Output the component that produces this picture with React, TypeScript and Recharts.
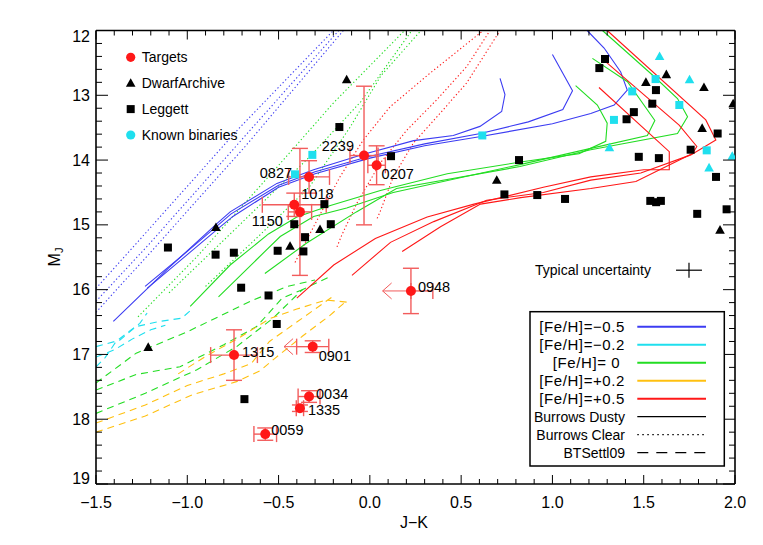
import React from 'react';
import { ComposedChart, Line, Scatter, XAxis, YAxis, ErrorBar, Legend } from 'recharts';

const FONT = '"Liberation Sans", Arial, Helvetica, sans-serif';
const BLUE = '#3c3cf2';
const CYAN = '#1fdfee';
const GREEN = '#22dd22';
const ORANGE = '#ffc010';
const RED = '#ff1818';
const ERR = '#f25c5c';

// ---------- axis ticks ----------
const xTicks = [-1.5, -1.4, -1.3, -1.2, -1.1, -1.0, -0.9, -0.8, -0.7, -0.6, -0.5, -0.4, -0.3, -0.2, -0.1, 0, 0.1, 0.2, 0.3, 0.4, 0.5, 0.6, 0.7, 0.8, 0.9, 1.0, 1.1, 1.2, 1.3, 1.4, 1.5, 1.6, 1.7, 1.8, 1.9, 2.0];
const xMajor = [-1.5, -1.0, -0.5, 0, 0.5, 1.0, 1.5, 2.0];
const xMajorLabels = ['\u22121.5', '\u22121.0', '\u22120.5', '0.0', '0.5', '1.0', '1.5', '2.0'];
const yTicks = [12, 12.2, 12.4, 12.6, 12.8, 13, 13.2, 13.4, 13.6, 13.8, 14, 14.2, 14.4, 14.6, 14.8, 15, 15.2, 15.4, 15.6, 15.8, 16, 16.2, 16.4, 16.6, 16.8, 17, 17.2, 17.4, 17.6, 17.8, 18, 18.2, 18.4, 18.6, 18.8, 19];
const yMajor = [12, 13, 14, 15, 16, 17, 18, 19];
const yMajorLabels = ['12', '13', '14', '15', '16', '17', '18', '19'];

// ---------- Burrows dusty (solid) ----------
const blueDusty1 = [{ x: -1.405, y: 16.49 }, { x: -1.1, y: 15.66 }, { x: -0.838, y: 14.98 }, { x: -0.765, y: 14.8 }, { x: -0.509, y: 14.36 }, { x: -0.308, y: 14.15 }, { x: -0.034, y: 13.91 }, { x: 0.24, y: 13.7 }, { x: 0.457, y: 13.62 }, { x: 0.603, y: 13.48 }, { x: 0.722, y: 13.25 }, { x: 0.74, y: 12.99 }, { x: 0.713, y: 12.74 }];
const blueDusty2 = [{ x: -1.231, y: 15.95 }, { x: -1.0, y: 15.41 }, { x: -0.83, y: 15.0 }, { x: -0.76, y: 14.83 }, { x: -0.5, y: 14.39 }, { x: -0.3, y: 14.18 }, { x: 0, y: 13.94 }, { x: 0.3, y: 13.75 }, { x: 0.606, y: 13.59 }, { x: 0.868, y: 13.41 }, { x: 1.057, y: 13.22 }, { x: 1.11, y: 12.93 }, { x: 1.0, y: 12.37 }];
const blueDusty3 = [{ x: -1.22, y: 15.98 }, { x: -1.0, y: 15.46 }, { x: -0.82, y: 15.03 }, { x: -0.75, y: 14.87 }, { x: -0.5, y: 14.42 }, { x: -0.3, y: 14.21 }, { x: 0, y: 13.97 }, { x: 0.3, y: 13.78 }, { x: 0.6, y: 13.64 }, { x: 1.0, y: 13.44 }, { x: 1.21, y: 13.28 }, { x: 1.338, y: 13.15 }, { x: 1.41, y: 12.92 }, { x: 1.374, y: 12.64 }, { x: 1.283, y: 12.27 }, { x: 1.19, y: 12.0 }];
const greenDusty1 = [{ x: -0.984, y: 16.26 }, { x: -0.765, y: 15.62 }, { x: -0.555, y: 15.14 }, { x: -0.4, y: 14.88 }, { x: -0.216, y: 14.7 }, { x: 0.058, y: 14.47 }, { x: 0.424, y: 14.21 }, { x: 0.826, y: 14.03 }, { x: 1.146, y: 13.9 }, { x: 1.292, y: 13.71 }, { x: 1.3, y: 13.43 }, { x: 1.246, y: 13.15 }, { x: 1.127, y: 12.85 }];
const greenDusty2 = [{ x: -0.829, y: 16.11 }, { x: -0.491, y: 15.18 }, { x: -0.308, y: 14.87 }, { x: -0.127, y: 14.74 }, { x: 0.128, y: 14.5 }, { x: 0.822, y: 14.07 }, { x: 1.21, y: 13.82 }, { x: 1.52, y: 13.62 }, { x: 1.561, y: 13.39 }, { x: 1.411, y: 12.79 }, { x: 1.219, y: 12.43 }];
const greenDusty3 = [{ x: -0.575, y: 15.75 }, { x: -0.346, y: 15.28 }, { x: -0.074, y: 14.8 }, { x: 0.146, y: 14.44 }, { x: 0.822, y: 14.1 }, { x: 1.21, y: 13.84 }, { x: 1.685, y: 13.59 }, { x: 1.74, y: 13.33 }, { x: 1.685, y: 13.05 }, { x: 1.557, y: 12.71 }, { x: 1.274, y: 12.0 }];
const redDusty1 = [{ x: -0.4, y: 16.13 }, { x: -0.198, y: 15.62 }, { x: 0.03, y: 15.21 }, { x: 0.314, y: 14.88 }, { x: 0.57, y: 14.68 }, { x: 0.95, y: 14.42 }, { x: 1.21, y: 14.26 }, { x: 1.5, y: 14.15 }, { x: 1.64, y: 14.15 }, { x: 1.64, y: 13.87 }, { x: 1.255, y: 12.88 }];
const redDusty2 = [{ x: -0.098, y: 15.78 }, { x: 0.113, y: 15.27 }, { x: 0.35, y: 14.95 }, { x: 0.64, y: 14.62 }, { x: 0.95, y: 14.5 }, { x: 1.21, y: 14.31 }, { x: 1.484, y: 14.2 }, { x: 1.758, y: 13.92 }, { x: 1.895, y: 13.69 }, { x: 1.84, y: 13.38 }, { x: 1.3, y: 12.0 }];
const redDusty3 = [{ x: 0.177, y: 15.41 }, { x: 0.387, y: 15.03 }, { x: 0.606, y: 14.68 }, { x: 0.826, y: 14.58 }, { x: 1.21, y: 14.44 }, { x: 1.457, y: 14.33 }, { x: 1.767, y: 13.9 }, { x: 1.791, y: 13.79 }, { x: 1.694, y: 13.46 }, { x: 1.283, y: 12.46 }];

// ---------- Burrows clear (dotted) ----------
const blueClear1 = [{ x: -1.5, y: 16.35 }, { x: -1.2, y: 15.42 }, { x: -0.68, y: 13.78 }, { x: -0.145, y: 12.0 }];
const blueClear2 = [{ x: -1.5, y: 16.18 }, { x: -1.21, y: 15.3 }, { x: -0.7, y: 13.68 }, { x: -0.17, y: 12.0 }];
const blueClear3 = [{ x: -1.5, y: 15.98 }, { x: -1.22, y: 15.1 }, { x: -0.72, y: 13.52 }, { x: -0.2, y: 12.0 }];
const greenClear1 = [{ x: -1.27, y: 16.42 }, { x: -0.95, y: 15.5 }, { x: -0.49, y: 14.05 }, { x: -0.2, y: 13.12 }, { x: 0.19, y: 12.0 }];
const greenClear2 = [{ x: -1.1, y: 16.05 }, { x: -0.75, y: 15.1 }, { x: -0.33, y: 13.95 }, { x: -0.05, y: 13.1 }, { x: 0.23, y: 12.0 }];
const greenClear3 = [{ x: -0.9, y: 15.95 }, { x: -0.6, y: 15.15 }, { x: -0.33, y: 14.41 }, { x: -0.11, y: 13.5 }, { x: 0.06, y: 12.7 }, { x: 0.28, y: 12.0 }];
const redClear1 = [{ x: -0.41, y: 15.58 }, { x: -0.355, y: 15.28 }, { x: -0.164, y: 14.26 }, { x: -0.036, y: 13.69 }, { x: 0.11, y: 13.18 }, { x: 0.329, y: 12.66 }, { x: 0.621, y: 12.0 }];
const redClear2 = [{ x: -0.18, y: 15.34 }, { x: -0.154, y: 15.16 }, { x: -0.072, y: 14.67 }, { x: 0.056, y: 14.05 }, { x: 0.202, y: 13.54 }, { x: 0.366, y: 13.07 }, { x: 0.53, y: 12.56 }, { x: 0.658, y: 12.0 }];
const redClear3 = [{ x: 0.04, y: 14.9 }, { x: 0.056, y: 14.8 }, { x: 0.128, y: 14.26 }, { x: 0.238, y: 13.74 }, { x: 0.384, y: 13.28 }, { x: 0.53, y: 12.81 }, { x: 0.713, y: 12.0 }];

// ---------- BT-Settl 09 (dashed) ----------
const cyanSettl1 = [{ x: -1.5, y: 17.19 }, { x: -1.45, y: 17.05 }, { x: -1.39, y: 16.8 }, { x: -1.26, y: 16.52 }, { x: -1.22, y: 16.36 }];
const cyanSettl2 = [{ x: -1.5, y: 16.88 }, { x: -1.37, y: 16.78 }, { x: -1.28, y: 16.57 }, { x: -1.15, y: 16.49 }, { x: -1.03, y: 16.44 }, { x: -0.97, y: 16.29 }];
const cyanSettl3 = [{ x: -1.5, y: 17.04 }, { x: -1.4, y: 16.93 }, { x: -1.3, y: 16.76 }, { x: -1.2, y: 16.62 }, { x: -1.12, y: 16.55 }];
const greenSettl1 = [{ x: -1.5, y: 17.44 }, { x: -1.28, y: 16.98 }, { x: -1.0, y: 16.65 }, { x: -0.64, y: 16.16 }, { x: -0.45, y: 15.95 }, { x: -0.3, y: 15.85 }];
const greenSettl2 = [{ x: -1.5, y: 17.55 }, { x: -1.28, y: 17.31 }, { x: -1.04, y: 17.19 }, { x: -0.8, y: 16.85 }, { x: -0.62, y: 16.57 }, { x: -0.48, y: 16.13 }, { x: -0.36, y: 15.99 }];
const greenSettl3 = [{ x: -1.5, y: 17.91 }, { x: -1.23, y: 17.6 }, { x: -0.95, y: 17.24 }, { x: -0.73, y: 16.88 }, { x: -0.53, y: 16.44 }, { x: -0.37, y: 16.0 }, { x: -0.22, y: 15.8 }];
const orangeSettl1 = [{ x: -1.5, y: 18.2 }, { x: -1.23, y: 17.95 }, { x: -0.97, y: 17.62 }, { x: -0.73, y: 17.42 }, { x: -0.6, y: 17.25 }, { x: -0.52, y: 17.06 }, { x: -0.37, y: 16.72 }, { x: -0.22, y: 16.4 }, { x: -0.13, y: 16.18 }];
const orangeSettl2 = [{ x: -1.5, y: 18.06 }, { x: -1.23, y: 17.78 }, { x: -1.0, y: 17.48 }, { x: -0.8, y: 17.3 }, { x: -0.65, y: 17.14 }, { x: -0.55, y: 16.8 }, { x: -0.4, y: 16.5 }, { x: -0.19, y: 16.08 }];
const orangeSettl3 = [{ x: -1.05, y: 17.3 }, { x: -0.9, y: 17.03 }, { x: -0.72, y: 16.75 }, { x: -0.55, y: 16.45 }, { x: -0.4, y: 16.3 }, { x: -0.24, y: 16.16 }, { x: -0.1, y: 16.2 }];

// ---------- comparison objects ----------
const dwarfArchive = [{ x: -0.127, y: 12.76 }, { x: -0.273, y: 15.07 }, { x: -0.843, y: 15.04 }, { x: -0.437, y: 15.33 }, { x: -1.214, y: 16.89 }, { x: 0.695, y: 14.31 }, { x: 1.512, y: 12.8 }, { x: 1.624, y: 12.68 }, { x: 1.83, y: 12.88 }, { x: 1.82, y: 13.51 }, { x: 1.99, y: 13.13 }, { x: 1.918, y: 15.08 }];
const leggett = [{ x: -0.167, y: 13.49 }, { x: -0.249, y: 14.68 }, { x: -0.414, y: 14.99 }, { x: -0.214, y: 14.99 }, { x: -0.355, y: 15.19 }, { x: -0.505, y: 15.4 }, { x: -0.364, y: 15.41 }, { x: -1.106, y: 15.35 }, { x: -0.845, y: 15.46 }, { x: -0.745, y: 15.43 }, { x: -0.705, y: 15.97 }, { x: -0.555, y: 16.09 }, { x: -0.51, y: 16.53 }, { x: -0.687, y: 17.69 }, { x: 0.116, y: 13.94 }, { x: 0.817, y: 14.0 }, { x: 0.737, y: 14.53 }, { x: 0.917, y: 14.54 }, { x: 1.069, y: 14.6 }, { x: 1.288, y: 12.44 }, { x: 1.257, y: 12.58 }, { x: 1.567, y: 12.92 }, { x: 1.547, y: 13.13 }, { x: 1.446, y: 13.26 }, { x: 1.406, y: 13.37 }, { x: 1.473, y: 13.95 }, { x: 1.583, y: 13.97 }, { x: 1.536, y: 14.63 }, { x: 1.568, y: 14.65 }, { x: 1.594, y: 14.63 }, { x: 1.793, y: 14.83 }, { x: 1.896, y: 14.26 }, { x: 1.905, y: 13.59 }, { x: 1.757, y: 13.84 }, { x: 1.954, y: 14.76 }];
const binariesSquare = [{ x: -0.315, y: 13.92 }, { x: -0.41, y: 14.22 }, { x: 0.616, y: 13.62 }, { x: 1.337, y: 13.38 }, { x: 1.437, y: 12.94 }, { x: 1.565, y: 12.75 }, { x: 1.695, y: 13.15 }, { x: 1.845, y: 13.85 }];
const binariesTriangle = [{ x: 1.312, y: 13.81 }, { x: 1.587, y: 12.4 }, { x: 1.751, y: 12.76 }, { x: 1.858, y: 14.12 }, { x: 1.985, y: 13.94 }];

// ---------- targets ----------
const targets = [
  { name: '2239', x: -0.032, y: 13.93, ex: 0.077, ey: 1.07 },
  { name: '0207', x: 0.037, y: 14.08, ex: 0.048, ey: 0.3 },
  { name: '0827', x: -0.333, y: 14.26, ex: 0.112, ey: 0.25 },
  { name: '1018', x: -0.414, y: 14.69, ex: 0.175, ey: 0.18 },
  { name: '1150', x: -0.383, y: 14.8, ex: 0.064, ey: 0.98 },
  { name: '0948', x: 0.225, y: 16.02, ex: [0, 0.12], ey: 0.35 },
  { name: '1315', x: -0.744, y: 17.01, ex: 0.128, ey: 0.39 },
  { name: '0901', x: -0.313, y: 16.88, ex: 0.088, ey: 0.09 },
  { name: '0034', x: -0.333, y: 17.65, ex: 0.06, ey: 0.09 },
  { name: '1335', x: -0.383, y: 17.83, ex: 0.02, ey: 0.05 },
  { name: '0059', x: -0.573, y: 18.23, ex: 0.062, ey: 0.095 },
];
const limitArrow0948 = [{ x: 0.225, y: 16.02 }, { x: 0.07, y: 16.02 }];
const limitArrow0901 = [{ x: -0.313, y: 16.88 }, { x: -0.47, y: 16.88 }];
const typicalUncertainty = [{ x: 1.748, y: 15.7, ex: 0.071, ey: 0.116 }];

// ---------- render-only styling ----------
const labelPlacement: Record<string, { dx: number; dy: number; anchor: 'start' | 'end' }> = {
  '2239': { dx: -10, dy: -5, anchor: 'end' },
  '0207': { dx: 5, dy: 14, anchor: 'start' },
  '0827': { dx: -17, dy: 1, anchor: 'end' },
  '1018': { dx: 7, dy: -6, anchor: 'start' },
  '1150': { dx: -17, dy: 14, anchor: 'end' },
  '0948': { dx: 7, dy: 1, anchor: 'start' },
  '1315': { dx: 8, dy: 2, anchor: 'start' },
  '0901': { dx: 6, dy: 14, anchor: 'start' },
  '0034': { dx: 7, dy: 2, anchor: 'start' },
  '1335': { dx: 8, dy: 7, anchor: 'start' },
  '0059': { dx: 6, dy: 1, anchor: 'start' },
};

const markerLegend = [
  { label: 'Targets', kind: 'circle', color: RED },
  { label: 'DwarfArchive', kind: 'triangle', color: '#000' },
  { label: 'Leggett', kind: 'square', color: '#000' },
  { label: 'Known binaries', kind: 'circle', color: CYAN },
];
const lineLegend = [
  { label: '[Fe/H]=\u22120.5', color: BLUE, dash: undefined as string | undefined, wide: true },
  { label: '[Fe/H]=\u22120.2', color: CYAN, dash: undefined, wide: true },
  { label: '[Fe/H]= 0\u00a0', color: GREEN, dash: undefined, wide: true },
  { label: '[Fe/H]=+0.2', color: ORANGE, dash: undefined, wide: true },
  { label: '[Fe/H]=+0.5', color: RED, dash: undefined, wide: true },
  { label: 'Burrows Dusty', color: '#000', dash: undefined, wide: false },
  { label: 'Burrows Clear', color: '#000', dash: '1.5 3.5', wide: false },
  { label: 'BTSettl09', color: '#000', dash: '11 8', wide: false },
];

const W = 747;
const H = 529;
const DOT = '1.3 2.4';
const DASH = '7 5';
const AXIS = { stroke: '#000', strokeWidth: 1.6 };

const findIdx = (arr: number[], v: number) => arr.findIndex((m) => Math.abs(m - v) < 1e-6);

const BottomTick = (p: any) => {
  const i = findIdx(xMajor, p.payload.value);
  return (
    <g>
      <line x1={p.x} x2={p.x} y1={p.y} y2={p.y - (i >= 0 ? 9 : 5)} stroke="#000" strokeWidth={1} />
      {i >= 0 && (
        <text x={p.x} y={p.y + 24} textAnchor="middle" fontSize={16} fontFamily={FONT} fill="#000">
          {xMajorLabels[i]}
        </text>
      )}
    </g>
  );
};
const TopTick = (p: any) => {
  const i = findIdx(xMajor, p.payload.value);
  return <line x1={p.x} x2={p.x} y1={p.y} y2={p.y + (i >= 0 ? 9 : 5)} stroke="#000" strokeWidth={1} />;
};
const LeftTick = (p: any) => {
  const i = findIdx(yMajor, p.payload.value);
  const shift = i === 0 ? 6 : i === yMajor.length - 1 ? -6 : 0;
  return (
    <g>
      <line x1={p.x} x2={p.x + (i >= 0 ? 12 : 6)} y1={p.y} y2={p.y} stroke="#000" strokeWidth={1} />
      {i >= 0 && (
        <text x={p.x - 6} y={p.y + 5.5 + shift} textAnchor="end" fontSize={16} fontFamily={FONT} fill="#000">
          {yMajorLabels[i]}
        </text>
      )}
    </g>
  );
};
const RightTick = (p: any) => {
  const i = findIdx(yMajor, p.payload.value);
  return <line x1={p.x} x2={p.x - (i >= 0 ? 12 : 6)} y1={p.y} y2={p.y} stroke="#000" strokeWidth={1} />;
};

const squareShape = (color: string) => (p: any) => <rect x={p.cx - 4} y={p.cy - 4} width={8} height={8} fill={color} />;
const triangleShape = (color: string) => (p: any) => (
  <path d={`M${p.cx},${p.cy - 5} L${p.cx + 4.8},${p.cy + 3.6} L${p.cx - 4.8},${p.cy + 3.6} Z`} fill={color} />
);
const targetShape = (p: any) => {
  const lp = labelPlacement[p.payload.name];
  return (
    <g>
      <circle cx={p.cx} cy={p.cy} r={5} fill={RED} />
      <text x={p.cx + lp.dx} y={p.cy + lp.dy} textAnchor={lp.anchor} fontSize={14.5} fontFamily={FONT} fill="#000">
        {p.payload.name}
      </text>
    </g>
  );
};
const typicalShape = (p: any) => (
  <text x={p.cx - 38} y={p.cy + 5} textAnchor="end" fontSize={14} fontFamily={FONT} fill="#000">
    Typical uncertainty
  </text>
);
const arrowHead = (p: any) => {
  if (p.index !== 1) return <g key={`a${p.index}`} />;
  return (
    <path key={`a${p.index}`} d={`M${p.cx + 9},${p.cy - 8} L${p.cx},${p.cy} L${p.cx + 9},${p.cy + 8}`} fill="none" stroke={ERR} strokeWidth={1} />
  );
};

const curve = (key: string, data: { x: number; y: number }[], color: string, dash?: string) => (
  <Line
    key={key}
    data={data}
    xAxisId="b"
    yAxisId="l"
    dataKey="y"
    type="linear"
    stroke={color}
    strokeWidth={1.1}
    strokeDasharray={dash}
    dot={false}
    activeDot={false}
    legendType="none"
    isAnimationActive={false}
  />
);

const legendMarker = (kind: string, color: string, cx: number, cy: number) => {
  if (kind === 'circle') return <circle cx={cx} cy={cy} r={4.6} fill={color} />;
  if (kind === 'square') return <rect x={cx - 4} y={cy - 4} width={8} height={8} fill={color} />;
  return <path d={`M${cx},${cy - 5} L${cx + 4.8},${cy + 3.6} L${cx - 4.8},${cy + 3.6} Z`} fill={color} />;
};

const Overlay = () => (
  <svg width={W} height={H} style={{ position: 'absolute', left: 0, top: 0, overflow: 'visible' }}>
    {markerLegend.map((m, i) => {
      const cy = 49.3 + i * 25.9;
      return (
        <g key={m.label}>
          {legendMarker(m.kind, m.color, 122.7, cy)}
          <text x={133.7} y={cy + 5} fontSize={14} fontFamily={FONT} fill="#000">
            {m.label}
          </text>
        </g>
      );
    })}
    <rect x={522} y={303.7} width={194.3} height={154.3} fill="#fff" stroke="#000" strokeWidth={1.5} />
    {lineLegend.map((l, i) => {
      const cy = 318.7 + i * 18.0;
      return (
        <g key={l.label}>
          <text
            x={617}
            y={cy + 5.5}
            textAnchor="end"
            fontSize={l.wide ? 15 : 14}
            letterSpacing={l.wide ? 0.6 : 0}
            fontFamily={FONT}
            fill="#000"
          >
            {l.label}
          </text>
          <line x1={629.3} x2={698} y1={cy} y2={cy} stroke={l.color} strokeWidth={l.wide ? 2 : 1.3} strokeDasharray={l.dash} />
        </g>
      );
    })}
  </svg>
);

const YLabel = () => (
  <text transform="translate(52,249) rotate(-90)" textAnchor="middle" fontSize={16} fontFamily={FONT} fill="#000">
    M<tspan fontSize={11} dy={3}>J</tspan>
  </text>
);
const XLabel = () => (
  <text x={406} y={520} textAnchor="middle" fontSize={16} fontFamily={FONT} fill="#000">
    J{'\u2212'}K
  </text>
);

export default function App() {
  return (
    <div style={{ width: W, height: H, position: 'relative', background: '#fff' }}>
      <ComposedChart width={W} height={H} margin={{ top: 21.5, right: 19, bottom: 52, left: 87 }}>
        <XAxis
          xAxisId="b"
          type="number"
          dataKey="x"
          domain={[-1.5, 2]}
          ticks={xTicks}
          interval={0}
          tick={BottomTick}
          tickLine={false}
          tickSize={0}
          tickMargin={0}
          height={1}
          axisLine={AXIS}
          allowDataOverflow
          label={<XLabel />}
        />
        <XAxis
          xAxisId="t"
          orientation="top"
          type="number"
          dataKey="x"
          domain={[-1.5, 2]}
          ticks={xTicks}
          interval={0}
          tick={TopTick}
          tickLine={false}
          tickSize={0}
          tickMargin={0}
          height={1}
          axisLine={AXIS}
          allowDataOverflow
        />
        <YAxis
          yAxisId="l"
          type="number"
          dataKey="y"
          domain={[12, 19]}
          reversed
          ticks={yTicks}
          interval={0}
          tick={LeftTick}
          tickLine={false}
          tickSize={0}
          tickMargin={0}
          width={1}
          axisLine={AXIS}
          allowDataOverflow
          label={<YLabel />}
        />
        <YAxis
          yAxisId="r"
          orientation="right"
          type="number"
          dataKey="y"
          domain={[12, 19]}
          reversed
          ticks={yTicks}
          interval={0}
          tick={RightTick}
          tickLine={false}
          tickSize={0}
          tickMargin={0}
          width={1}
          axisLine={AXIS}
          allowDataOverflow
        />

        {curve('bc1', blueClear1, BLUE, DOT)}
        {curve('bc2', blueClear2, BLUE, DOT)}
        {curve('bc3', blueClear3, BLUE, DOT)}
        {curve('gc1', greenClear1, GREEN, DOT)}
        {curve('gc2', greenClear2, GREEN, DOT)}
        {curve('gc3', greenClear3, GREEN, DOT)}
        {curve('rc1', redClear1, RED, DOT)}
        {curve('rc2', redClear2, RED, DOT)}
        {curve('rc3', redClear3, RED, DOT)}
        {curve('cs1', cyanSettl1, CYAN, DASH)}
        {curve('cs2', cyanSettl2, CYAN, DASH)}
        {curve('cs3', cyanSettl3, CYAN, DASH)}
        {curve('gs1', greenSettl1, GREEN, DASH)}
        {curve('gs2', greenSettl2, GREEN, DASH)}
        {curve('gs3', greenSettl3, GREEN, DASH)}
        {curve('os1', orangeSettl1, ORANGE, DASH)}
        {curve('os2', orangeSettl2, ORANGE, DASH)}
        {curve('os3', orangeSettl3, ORANGE, DASH)}
        {curve('bd1', blueDusty1, BLUE)}
        {curve('bd2', blueDusty2, BLUE)}
        {curve('bd3', blueDusty3, BLUE)}
        {curve('gd1', greenDusty1, GREEN)}
        {curve('gd2', greenDusty2, GREEN)}
        {curve('gd3', greenDusty3, GREEN)}
        {curve('rd1', redDusty1, RED)}
        {curve('rd2', redDusty2, RED)}
        {curve('rd3', redDusty3, RED)}

        <Scatter data={dwarfArchive} xAxisId="b" yAxisId="l" shape={triangleShape('#000')} isAnimationActive={false} legendType="none" />
        <Scatter data={leggett} xAxisId="b" yAxisId="l" shape={squareShape('#000')} isAnimationActive={false} legendType="none" />
        <Scatter data={binariesSquare} xAxisId="b" yAxisId="l" shape={squareShape(CYAN)} isAnimationActive={false} legendType="none" />
        <Scatter data={binariesTriangle} xAxisId="b" yAxisId="l" shape={triangleShape(CYAN)} isAnimationActive={false} legendType="none" />

        <Line data={limitArrow0948} xAxisId="b" yAxisId="l" dataKey="y" stroke={ERR} strokeWidth={1} dot={arrowHead} activeDot={false} legendType="none" isAnimationActive={false} />
        <Line data={limitArrow0901} xAxisId="b" yAxisId="l" dataKey="y" stroke={ERR} strokeWidth={1} dot={arrowHead} activeDot={false} legendType="none" isAnimationActive={false} />

        <Scatter data={targets} xAxisId="b" yAxisId="l" shape={targetShape} isAnimationActive={false} legendType="none">
          <ErrorBar dataKey="ex" direction="x" width={8} stroke={ERR} strokeWidth={1.4} />
          <ErrorBar dataKey="ey" direction="y" width={8} stroke={ERR} strokeWidth={1.4} />
        </Scatter>

        <Scatter data={typicalUncertainty} xAxisId="b" yAxisId="l" shape={typicalShape} isAnimationActive={false} legendType="none">
          <ErrorBar dataKey="ex" direction="x" width={0} stroke="#000" strokeWidth={1.2} />
          <ErrorBar dataKey="ey" direction="y" width={0} stroke="#000" strokeWidth={1.2} />
        </Scatter>

        <Legend
          layout="horizontal"
          verticalAlign="middle"
          align="center"
          content={() => <Overlay />}
          wrapperStyle={{ left: 0, top: 0, width: W, height: H, pointerEvents: 'none' }}
        />
      </ComposedChart>
    </div>
  );
}
